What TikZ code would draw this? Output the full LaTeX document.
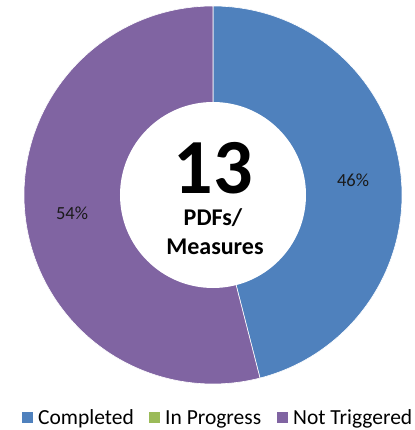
\documentclass[tikz,border=0pt]{standalone}
\usepackage{fontspec}
\setmainfont{Carlito}
\definecolor{cblue}{HTML}{4F81BD}
\definecolor{cgreen}{HTML}{9BBB59}
\definecolor{cpurple}{HTML}{8064A2}
\definecolor{ctext}{HTML}{1A1A1A}
\begin{document}
\begin{tikzpicture}[x=1bp,y=1bp,
  slice/.style={draw=white,line width=0.6bp},
  pct/.style={font=\fontsize{18.5bp}{22bp}\selectfont,text=ctext,inner sep=0},
  legtext/.style={font=\fontsize{21.5bp}{25bp}\selectfont,text=black,anchor=base west,inner sep=0},
  legbox/.style={minimum size=11bp,inner sep=0,anchor=south west}]
\useasboundingbox (0,0) rectangle (415,430);
\coordinate (c) at (213,235);
\fill[cblue,slice] (c) -- ++(90:189) arc[start angle=90,end angle=-75.6,radius=189] -- cycle;
\fill[cpurple,slice] (c) -- ++(90:189) arc[start angle=90,end angle=284.4,radius=189] -- cycle;
\node[circle,fill=white,minimum size=186bp,inner sep=0] (hole) at (c) {};
\node[font=\bfseries\fontsize{78bp}{78bp}\selectfont,anchor=base,inner sep=0] (num) at (213,237) {13};
\node[font=\bfseries\fontsize{24bp}{28bp}\selectfont,anchor=base,inner sep=0] (l1) at (213,205) {PDFs/};
\node[font=\bfseries\fontsize{24bp}{28bp}\selectfont,anchor=base,inner sep=0] (l2) at (215,176) {Measures};
\node[pct] (p46) at (353,250) {46\%};
\node[pct] (p54) at (72,217) {54\%};
\node[legbox,fill=cblue] (k1) at (22,7) {};
\node[legtext] (t1) at (38,6) {Completed};
\node[legbox,fill=cgreen] (k2) at (149,7) {};
\node[legtext] (t2) at (165,6) {In Progress};
\node[legbox,fill=cpurple] (k3) at (277,7) {};
\node[legtext] (t3) at (293,6) {Not Triggered};
\end{tikzpicture}
\end{document}
